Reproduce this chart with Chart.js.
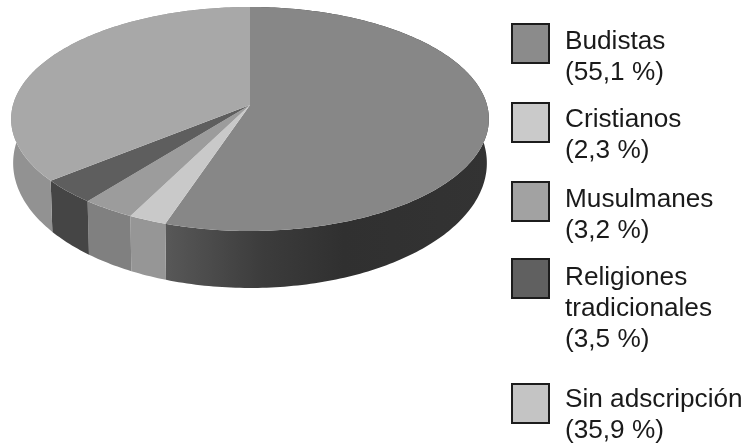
<!DOCTYPE html>
<html>
<head>
<meta charset="utf-8">
<style>
    html, body { margin: 0; padding: 0; background: #fff; }
    #wrap { position: relative; width: 749px; height: 446px; overflow: hidden; }
    .swatch { position: absolute; left: 511px; width: 35px; height: 37px; border: 2px solid #1c1c1c; }
    .text { position: absolute; left: 565px; font: 26.2px/31px "Liberation Sans", Arial, sans-serif; color: #1a1a1a; white-space: nowrap; }
</style>
</head>
<body>
<div id="wrap">
    <canvas id="pie" width="749" height="446"></canvas>
    <div id="legend"></div>
</div>
<script src="https://cdn.jsdelivr.net/npm/chart.js@4/dist/chart.umd.min.js"></script>
<script>
const categories = ['Budistas', 'Cristianos', 'Musulmanes', 'Religiones tradicionales', 'Sin adscripción'];
const values = [55.1, 2.3, 3.2, 3.5, 35.9];
const legendLines = [
    ['Budistas', '(55,1 %)'],
    ['Cristianos', '(2,3 %)'],
    ['Musulmanes', '(3,2 %)'],
    ['Religiones', 'tradicionales', '(3,5 %)'],
    ['Sin adscripción', '(35,9 %)']
];
const topColors = ['#878787', '#c9c9c9', '#9c9c9c', '#5e5e5e', '#a8a8a8'];
const wallColors = ['#333333', '#969696', '#808080', '#454545', '#929292'];
const swatchColors = ['#8b8b8b', '#cacaca', '#a2a2a2', '#606060', '#c4c4c4'];

// where the swatches and their text go
const swatchTops = [23, 102, 181, 258, 383];
const textTops = [25, 103, 183, 261, 383];

// tilted disc, the near edge comes out bigger than the far edge
const TOP = { x: 250, y: 105, a: 237, b: 110.25, p: 0.125 };
const BOTTOM = { x: 250, y: 147.4, a: 235, b: 123, p: 0.125 };

function project(disc, angle) {
    const u = Math.cos(angle);
    const v = Math.sin(angle);
    const d = 1 - disc.p * v;
    return [disc.x + disc.a * u / d, disc.y + disc.b * v / d];
}

function rim(ctx, disc, from, to) {
    const steps = Math.max(4, Math.ceil(Math.abs(to - from) * 60));
    for (let i = 0; i <= steps; i++) {
        const p = project(disc, from + (to - from) * i / steps);
        ctx.lineTo(p[0], p[1]);
    }
}

function wallFill(ctx, index) {
    if (index !== 0) return wallColors[index];
    const g = ctx.createLinearGradient(165, 0, 490, 0);
    g.addColorStop(0, '#585858');
    g.addColorStop(0.3, '#3c3c3c');
    g.addColorStop(0.55, '#303030');
    g.addColorStop(1, '#333333');
    return g;
}

const tiltedPie = {
    id: 'tiltedPie',
    beforeDatasetDraw(chart, args) {
        const ctx = chart.ctx;
        const arcs = args.meta.data;
        ctx.save();
        ctx.filter = 'blur(0.7px)';
        arcs.forEach((arc, i) => {
            ctx.beginPath();
            rim(ctx, TOP, arc.startAngle, arc.endAngle);
            rim(ctx, BOTTOM, arc.endAngle, arc.startAngle);
            ctx.closePath();
            ctx.fillStyle = wallFill(ctx, i);
            ctx.fill();
        });
        arcs.forEach((arc, i) => {
            ctx.beginPath();
            ctx.moveTo(TOP.x, TOP.y);
            rim(ctx, TOP, arc.startAngle, arc.endAngle);
            ctx.closePath();
            ctx.fillStyle = arc.options.backgroundColor;
            ctx.fill();
        });
        ctx.restore();
        return false;
    }
};

new Chart(document.getElementById('pie'), {
    type: 'pie',
    data: {
        labels: categories,
        datasets: [{ data: values, backgroundColor: topColors, borderWidth: 0 }]
    },
    options: {
        responsive: false,
        animation: false,
        plugins: { legend: { display: false }, tooltip: { enabled: false } }
    },
    plugins: [tiltedPie]
});

const legend = document.getElementById('legend');
legendLines.forEach((lines, i) => {
    const swatch = document.createElement('div');
    swatch.className = 'swatch';
    swatch.style.top = swatchTops[i] + 'px';
    swatch.style.background = swatchColors[i];
    legend.appendChild(swatch);

    const text = document.createElement('div');
    text.className = 'text';
    text.style.top = textTops[i] + 'px';
    text.innerHTML = lines.join('<br>');
    legend.appendChild(text);
});
</script>
</body>
</html>
